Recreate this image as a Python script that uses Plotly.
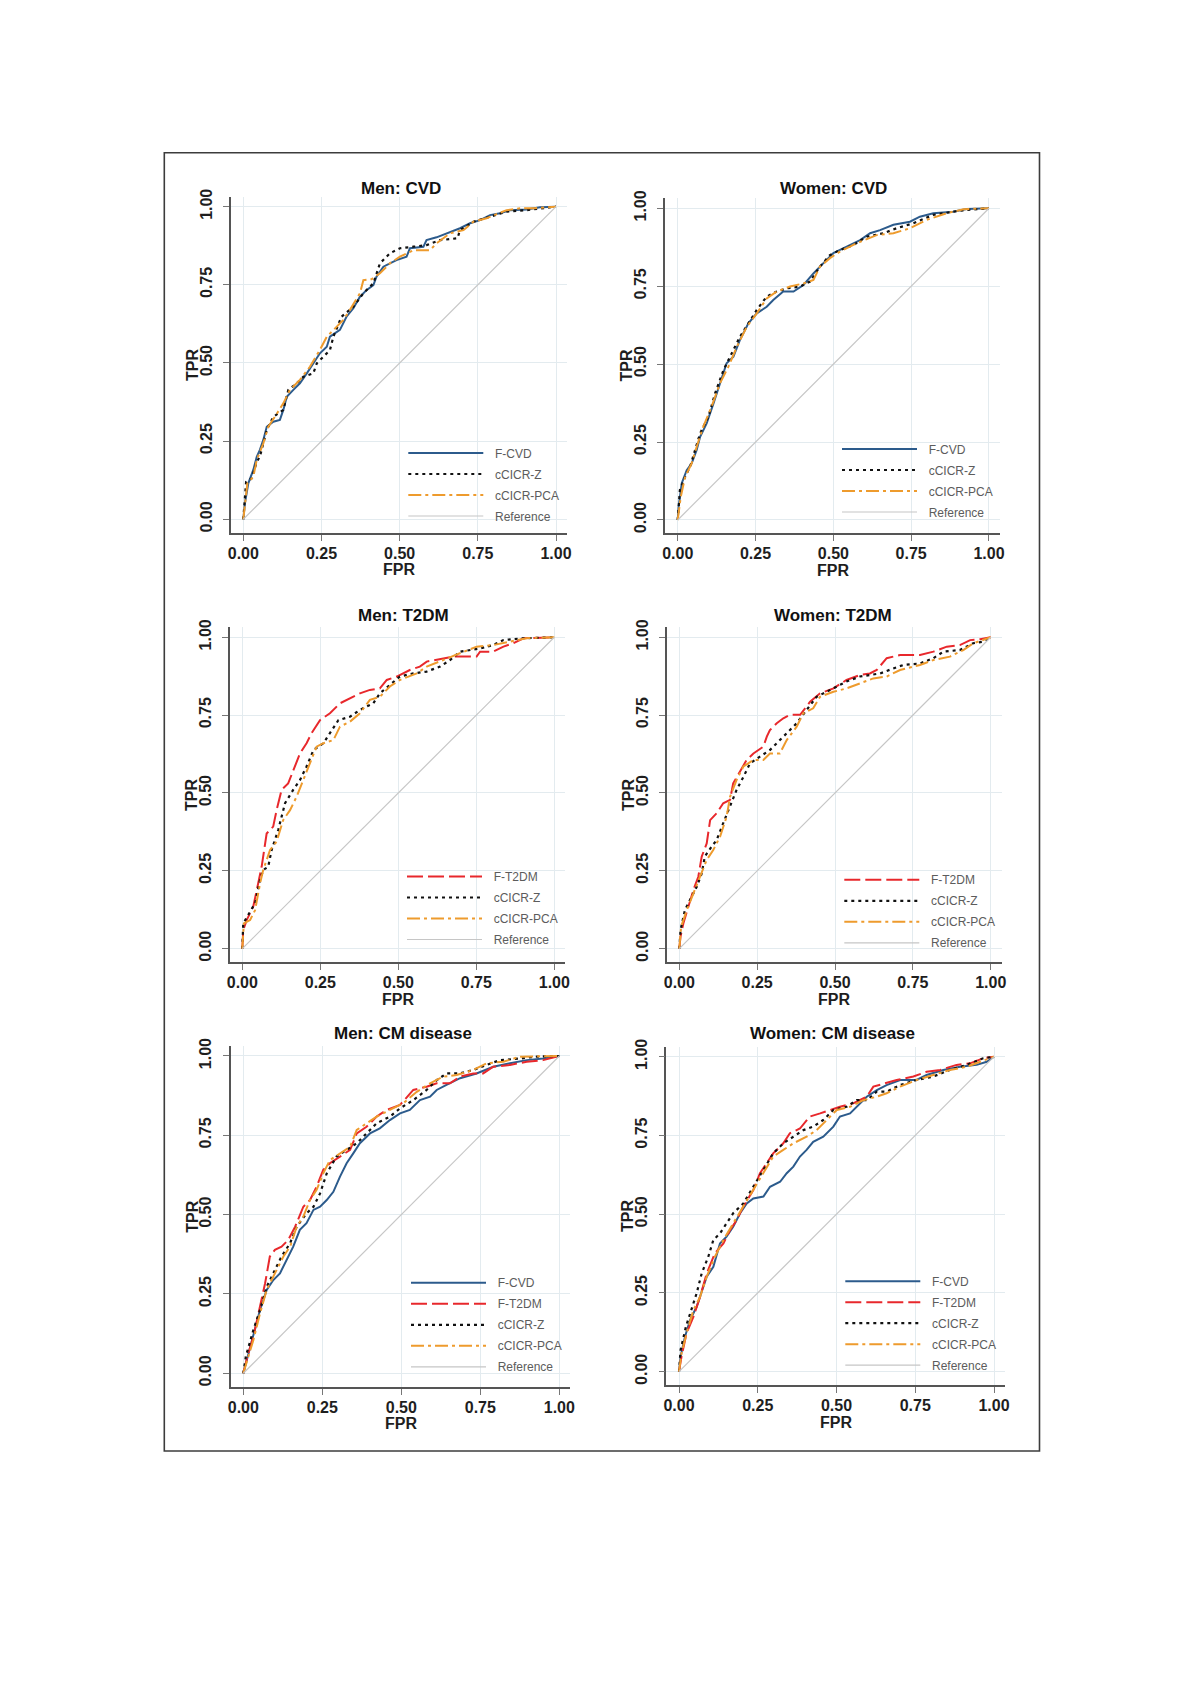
import plotly.graph_objects as go

# The page body has an 8px margin; the figure is sized so the page is exactly 1200x1698.
PAGE_OFF = 8
FIG_W, FIG_H = 1200 - 2 * PAGE_OFF, 1698 - 2 * PAGE_OFF

# ---------------- data (FPR / TPR) ----------------
tick_vals = [0, 0.25, 0.5, 0.75, 1.0]
tick_text = ["0.00", "0.25", "0.50", "0.75", "1.00"]
ref_fpr = [0, 1]
ref_tpr = [0, 1]

# Men: CVD
men_cvd_fcvd_fpr = [0, 0.005, 0.016, 0.032, 0.043, 0.053, 0.064, 0.075, 0.096, 0.117, 0.128, 0.139, 0.16, 0.181, 0.203, 0.224, 0.245, 0.267, 0.277, 0.309, 0.33, 0.352, 0.373, 0.394, 0.416, 0.426, 0.448, 0.469, 0.49, 0.522, 0.533, 0.576, 0.586, 0.618, 0.65, 0.693, 0.725, 0.757, 0.789, 0.821, 0.853, 0.906, 0.949, 1]
men_cvd_fcvd_tpr = [0, 0.05, 0.115, 0.158, 0.2, 0.222, 0.254, 0.296, 0.312, 0.318, 0.35, 0.392, 0.414, 0.435, 0.467, 0.499, 0.531, 0.552, 0.584, 0.606, 0.648, 0.675, 0.712, 0.733, 0.749, 0.776, 0.808, 0.819, 0.829, 0.84, 0.867, 0.872, 0.893, 0.902, 0.915, 0.931, 0.947, 0.957, 0.973, 0.979, 0.989, 0.991, 0.998, 1]
men_cvd_z_fpr = [0, 0.009, 0.027, 0.043, 0.053, 0.075, 0.096, 0.128, 0.144, 0.171, 0.192, 0.224, 0.235, 0.256, 0.277, 0.288, 0.314, 0.352, 0.384, 0.416, 0.437, 0.469, 0.501, 0.544, 0.586, 0.629, 0.685, 0.693, 0.736, 0.789, 0.842, 0.906, 0.949, 1]
men_cvd_z_tpr = [0, 0.12, 0.131, 0.184, 0.2, 0.286, 0.328, 0.35, 0.414, 0.435, 0.456, 0.467, 0.499, 0.52, 0.541, 0.584, 0.648, 0.68, 0.723, 0.755, 0.819, 0.851, 0.867, 0.872, 0.877, 0.893, 0.899, 0.925, 0.952, 0.968, 0.984, 0.989, 0.995, 1]
men_cvd_pca_fpr = [0, 0.013, 0.032, 0.043, 0.064, 0.08, 0.101, 0.128, 0.149, 0.181, 0.213, 0.245, 0.267, 0.288, 0.32, 0.341, 0.373, 0.384, 0.41, 0.437, 0.469, 0.501, 0.544, 0.597, 0.618, 0.661, 0.704, 0.736, 0.778, 0.842, 0.885, 0.928, 1]
men_cvd_pca_tpr = [0, 0.115, 0.136, 0.19, 0.243, 0.296, 0.328, 0.371, 0.414, 0.446, 0.488, 0.542, 0.584, 0.606, 0.638, 0.67, 0.723, 0.765, 0.768, 0.787, 0.819, 0.84, 0.861, 0.861, 0.883, 0.915, 0.925, 0.952, 0.963, 0.989, 0.995, 0.995, 1]

# Women: CVD
women_cvd_fcvd_fpr = [0, 0.003, 0.013, 0.029, 0.045, 0.061, 0.072, 0.093, 0.115, 0.136, 0.157, 0.179, 0.2, 0.227, 0.254, 0.286, 0.307, 0.339, 0.372, 0.404, 0.436, 0.468, 0.5, 0.543, 0.586, 0.618, 0.65, 0.693, 0.746, 0.778, 0.821, 0.885, 0.928, 1]
women_cvd_fcvd_tpr = [0, 0.043, 0.118, 0.16, 0.182, 0.225, 0.267, 0.31, 0.374, 0.439, 0.503, 0.524, 0.578, 0.631, 0.663, 0.684, 0.706, 0.733, 0.733, 0.754, 0.791, 0.824, 0.856, 0.877, 0.898, 0.92, 0.93, 0.947, 0.957, 0.973, 0.984, 0.989, 0.998, 1]
women_cvd_z_fpr = [0, 0.007, 0.024, 0.04, 0.056, 0.072, 0.099, 0.12, 0.147, 0.173, 0.2, 0.227, 0.254, 0.286, 0.318, 0.35, 0.393, 0.425, 0.457, 0.489, 0.521, 0.564, 0.607, 0.661, 0.703, 0.757, 0.821, 0.885, 0.928, 1]
women_cvd_z_tpr = [0, 0.096, 0.139, 0.171, 0.225, 0.278, 0.332, 0.406, 0.481, 0.535, 0.588, 0.631, 0.674, 0.717, 0.733, 0.743, 0.749, 0.765, 0.813, 0.85, 0.866, 0.882, 0.909, 0.92, 0.936, 0.952, 0.979, 0.989, 0.995, 1]
women_cvd_pca_fpr = [0, 0.01, 0.024, 0.045, 0.061, 0.082, 0.109, 0.136, 0.163, 0.19, 0.222, 0.254, 0.286, 0.318, 0.361, 0.404, 0.436, 0.457, 0.489, 0.521, 0.575, 0.639, 0.693, 0.746, 0.8, 0.864, 0.918, 1]
women_cvd_pca_tpr = [0, 0.075, 0.139, 0.182, 0.235, 0.299, 0.364, 0.439, 0.492, 0.556, 0.62, 0.663, 0.711, 0.733, 0.749, 0.759, 0.77, 0.813, 0.84, 0.861, 0.888, 0.914, 0.92, 0.936, 0.963, 0.984, 0.997, 1]

# Men: T2DM
men_t2dm_ft2dm_fpr = [0, 0.003, 0.014, 0.035, 0.051, 0.062, 0.078, 0.099, 0.11, 0.126, 0.147, 0.163, 0.185, 0.206, 0.222, 0.249, 0.281, 0.313, 0.345, 0.377, 0.409, 0.441, 0.463, 0.495, 0.537, 0.569, 0.591, 0.644, 0.676, 0.751, 0.762, 0.804, 0.837, 0.869, 0.901, 1]
men_t2dm_ft2dm_tpr = [0, 0.06, 0.092, 0.135, 0.21, 0.263, 0.37, 0.392, 0.445, 0.51, 0.531, 0.574, 0.627, 0.66, 0.692, 0.734, 0.756, 0.788, 0.804, 0.82, 0.831, 0.836, 0.863, 0.874, 0.895, 0.906, 0.922, 0.933, 0.938, 0.938, 0.954, 0.954, 0.97, 0.981, 0.997, 1]
men_t2dm_z_fpr = [0, 0.003, 0.025, 0.041, 0.057, 0.067, 0.083, 0.094, 0.115, 0.137, 0.163, 0.185, 0.206, 0.228, 0.26, 0.281, 0.308, 0.345, 0.377, 0.42, 0.441, 0.473, 0.505, 0.548, 0.591, 0.634, 0.666, 0.698, 0.73, 0.762, 0.804, 0.837, 0.901, 1]
men_t2dm_z_tpr = [0, 0.081, 0.119, 0.146, 0.221, 0.253, 0.263, 0.317, 0.381, 0.467, 0.51, 0.542, 0.585, 0.638, 0.66, 0.692, 0.734, 0.745, 0.767, 0.788, 0.82, 0.847, 0.874, 0.884, 0.89, 0.906, 0.927, 0.954, 0.959, 0.964, 0.975, 0.991, 0.997, 1]
men_t2dm_pca_fpr = [0, 0.005, 0.025, 0.041, 0.057, 0.067, 0.089, 0.11, 0.131, 0.153, 0.174, 0.196, 0.217, 0.238, 0.26, 0.292, 0.313, 0.345, 0.377, 0.409, 0.441, 0.473, 0.505, 0.559, 0.591, 0.644, 0.698, 0.751, 0.804, 0.858, 0.911, 1]
men_t2dm_pca_tpr = [0, 0.081, 0.092, 0.124, 0.21, 0.253, 0.317, 0.344, 0.413, 0.445, 0.488, 0.542, 0.595, 0.649, 0.66, 0.67, 0.713, 0.729, 0.756, 0.799, 0.809, 0.842, 0.863, 0.884, 0.906, 0.927, 0.948, 0.97, 0.975, 0.986, 0.997, 1]

# Women: T2DM
women_t2dm_ft2dm_fpr = [0, 0.004, 0.013, 0.029, 0.045, 0.061, 0.072, 0.088, 0.099, 0.12, 0.141, 0.163, 0.173, 0.195, 0.216, 0.238, 0.27, 0.281, 0.291, 0.313, 0.334, 0.355, 0.388, 0.42, 0.452, 0.495, 0.537, 0.58, 0.612, 0.634, 0.666, 0.709, 0.773, 0.816, 0.859, 0.901, 0.934, 0.966, 1]
women_t2dm_ft2dm_tpr = [0, 0.039, 0.081, 0.135, 0.188, 0.231, 0.296, 0.338, 0.413, 0.435, 0.467, 0.478, 0.531, 0.569, 0.606, 0.627, 0.649, 0.681, 0.702, 0.724, 0.74, 0.751, 0.751, 0.793, 0.82, 0.836, 0.863, 0.879, 0.884, 0.895, 0.933, 0.943, 0.943, 0.954, 0.97, 0.975, 0.991, 0.994, 1]
women_t2dm_z_fpr = [0, 0.004, 0.018, 0.034, 0.056, 0.072, 0.082, 0.104, 0.12, 0.141, 0.163, 0.184, 0.206, 0.227, 0.259, 0.291, 0.323, 0.345, 0.377, 0.409, 0.441, 0.473, 0.505, 0.537, 0.58, 0.612, 0.645, 0.687, 0.719, 0.773, 0.816, 0.848, 0.901, 0.944, 0.976, 1]
women_t2dm_z_tpr = [0, 0.06, 0.124, 0.156, 0.199, 0.242, 0.296, 0.328, 0.349, 0.403, 0.456, 0.51, 0.552, 0.595, 0.617, 0.638, 0.67, 0.692, 0.724, 0.767, 0.809, 0.825, 0.842, 0.858, 0.874, 0.879, 0.884, 0.9, 0.911, 0.916, 0.933, 0.954, 0.959, 0.981, 0.986, 1]
women_t2dm_pca_fpr = [0, 0.006, 0.024, 0.045, 0.066, 0.088, 0.109, 0.131, 0.152, 0.163, 0.184, 0.206, 0.238, 0.27, 0.291, 0.323, 0.345, 0.377, 0.398, 0.43, 0.452, 0.495, 0.537, 0.58, 0.623, 0.666, 0.709, 0.773, 0.816, 0.869, 0.912, 0.944, 1]
women_t2dm_pca_tpr = [0, 0.071, 0.124, 0.178, 0.231, 0.285, 0.317, 0.36, 0.424, 0.488, 0.542, 0.585, 0.606, 0.606, 0.627, 0.627, 0.67, 0.713, 0.756, 0.772, 0.809, 0.825, 0.836, 0.852, 0.868, 0.874, 0.895, 0.911, 0.927, 0.938, 0.959, 0.981, 1]

# Men: CM disease
men_cm_fcvd_fpr = [0, 0.011, 0.032, 0.053, 0.074, 0.095, 0.116, 0.137, 0.158, 0.179, 0.2, 0.222, 0.243, 0.264, 0.285, 0.306, 0.327, 0.348, 0.369, 0.401, 0.432, 0.464, 0.496, 0.527, 0.559, 0.591, 0.612, 0.643, 0.686, 0.738, 0.791, 0.844, 0.897, 0.949, 1]
men_cm_fcvd_tpr = [0, 0.042, 0.116, 0.2, 0.263, 0.294, 0.315, 0.357, 0.399, 0.452, 0.473, 0.515, 0.525, 0.546, 0.572, 0.62, 0.662, 0.693, 0.725, 0.756, 0.772, 0.798, 0.819, 0.83, 0.861, 0.872, 0.893, 0.909, 0.93, 0.945, 0.966, 0.977, 0.987, 0.992, 1]
men_cm_ft2dm_fpr = [0, 0.013, 0.032, 0.053, 0.069, 0.084, 0.1, 0.121, 0.142, 0.164, 0.19, 0.211, 0.232, 0.253, 0.274, 0.306, 0.338, 0.359, 0.39, 0.422, 0.454, 0.496, 0.538, 0.58, 0.612, 0.654, 0.686, 0.728, 0.759, 0.791, 0.844, 0.897, 0.949, 1]
men_cm_ft2dm_tpr = [0, 0.053, 0.116, 0.21, 0.284, 0.368, 0.389, 0.399, 0.42, 0.462, 0.525, 0.546, 0.588, 0.641, 0.662, 0.683, 0.704, 0.756, 0.777, 0.809, 0.83, 0.846, 0.893, 0.903, 0.914, 0.914, 0.935, 0.945, 0.945, 0.966, 0.972, 0.982, 0.987, 1]
men_cm_z_fpr = [0, 0.008, 0.032, 0.053, 0.074, 0.1, 0.121, 0.148, 0.169, 0.2, 0.222, 0.243, 0.264, 0.295, 0.327, 0.359, 0.39, 0.422, 0.464, 0.496, 0.538, 0.58, 0.612, 0.643, 0.686, 0.728, 0.77, 0.812, 0.876, 0.928, 1]
men_cm_z_tpr = [0, 0.053, 0.137, 0.2, 0.273, 0.326, 0.368, 0.41, 0.462, 0.504, 0.525, 0.567, 0.63, 0.683, 0.704, 0.725, 0.756, 0.788, 0.809, 0.835, 0.861, 0.893, 0.924, 0.945, 0.945, 0.956, 0.972, 0.987, 0.992, 0.998, 1]
men_cm_pca_fpr = [0, 0.013, 0.032, 0.053, 0.074, 0.1, 0.127, 0.148, 0.169, 0.19, 0.211, 0.232, 0.253, 0.274, 0.306, 0.338, 0.359, 0.39, 0.422, 0.464, 0.506, 0.549, 0.591, 0.633, 0.675, 0.728, 0.77, 0.823, 0.876, 1]
men_cm_pca_tpr = [0, 0.042, 0.105, 0.189, 0.263, 0.315, 0.368, 0.399, 0.462, 0.494, 0.546, 0.578, 0.63, 0.672, 0.693, 0.714, 0.767, 0.788, 0.809, 0.83, 0.851, 0.887, 0.914, 0.935, 0.94, 0.956, 0.977, 0.982, 0.998, 1]

# Women: CM disease
women_cm_fcvd_fpr = [0, 0.005, 0.019, 0.035, 0.056, 0.067, 0.088, 0.109, 0.13, 0.151, 0.172, 0.194, 0.215, 0.236, 0.268, 0.289, 0.321, 0.342, 0.363, 0.384, 0.405, 0.426, 0.458, 0.49, 0.511, 0.543, 0.575, 0.596, 0.628, 0.659, 0.702, 0.754, 0.786, 0.839, 0.892, 0.945, 0.977, 1]
women_cm_fcvd_tpr = [0, 0.048, 0.111, 0.164, 0.206, 0.238, 0.302, 0.333, 0.407, 0.429, 0.46, 0.503, 0.534, 0.55, 0.556, 0.587, 0.603, 0.63, 0.651, 0.683, 0.704, 0.73, 0.746, 0.778, 0.81, 0.82, 0.852, 0.873, 0.894, 0.91, 0.926, 0.926, 0.942, 0.958, 0.968, 0.974, 0.984, 1]
women_cm_ft2dm_fpr = [0, 0.008, 0.024, 0.046, 0.067, 0.088, 0.114, 0.141, 0.162, 0.183, 0.204, 0.236, 0.257, 0.278, 0.299, 0.331, 0.352, 0.384, 0.415, 0.448, 0.479, 0.511, 0.553, 0.596, 0.617, 0.649, 0.691, 0.744, 0.786, 0.829, 0.881, 0.924, 0.966, 1]
women_cm_ft2dm_tpr = [0, 0.048, 0.122, 0.175, 0.238, 0.312, 0.376, 0.407, 0.45, 0.481, 0.524, 0.577, 0.63, 0.661, 0.693, 0.725, 0.757, 0.772, 0.81, 0.82, 0.831, 0.841, 0.852, 0.873, 0.905, 0.915, 0.926, 0.937, 0.952, 0.958, 0.974, 0.979, 0.995, 1]
women_cm_z_fpr = [0, 0.005, 0.022, 0.04, 0.056, 0.072, 0.093, 0.109, 0.13, 0.151, 0.172, 0.204, 0.236, 0.268, 0.299, 0.331, 0.363, 0.395, 0.426, 0.458, 0.49, 0.532, 0.564, 0.596, 0.628, 0.659, 0.702, 0.754, 0.807, 0.86, 0.913, 0.966, 1]
women_cm_z_tpr = [0, 0.069, 0.143, 0.196, 0.249, 0.312, 0.365, 0.418, 0.439, 0.471, 0.503, 0.534, 0.587, 0.64, 0.693, 0.725, 0.746, 0.767, 0.778, 0.799, 0.831, 0.841, 0.862, 0.862, 0.889, 0.889, 0.91, 0.926, 0.937, 0.958, 0.974, 0.995, 1]
women_cm_pca_fpr = [0, 0.008, 0.024, 0.046, 0.067, 0.088, 0.114, 0.141, 0.172, 0.204, 0.236, 0.268, 0.299, 0.331, 0.363, 0.405, 0.437, 0.469, 0.501, 0.543, 0.585, 0.628, 0.659, 0.702, 0.754, 0.807, 0.86, 0.913, 0.966, 1]
women_cm_pca_tpr = [0, 0.058, 0.122, 0.196, 0.238, 0.302, 0.365, 0.418, 0.471, 0.524, 0.577, 0.63, 0.683, 0.704, 0.725, 0.746, 0.767, 0.799, 0.831, 0.841, 0.862, 0.873, 0.884, 0.905, 0.926, 0.942, 0.958, 0.968, 0.989, 1]

# ---------------- styles ----------------
FONT = "Liberation Sans, Arial, sans-serif"
STYLE = {
    "F-CVD": dict(color="#2c5b8c", width=2.0, dash="solid"),
    "F-T2DM": dict(color="#e8282c", width=2.0, dash="16px,5px"),
    "cCICR-Z": dict(color="#111111", width=2.2, dash="3px,4px"),
    "cCICR-PCA": dict(color="#ee9b2d", width=2.0, dash="13px,4px,3px,4px"),
    "Reference": dict(color="#c6c6c6", width=1.2, dash="solid"),
}

# panel layout in page pixels: x of FPR=0 / FPR=1, y of TPR=0 / TPR=1,
# legend left / top, title centre
panels = [
    dict(title="Men: CVD", px=(243.3, 556.0), py=(519.3, 206.7), title_xy=(401, 188),
         leg=(403.3, 438.5),
         series=[("F-CVD", men_cvd_fcvd_fpr, men_cvd_fcvd_tpr),
                 ("cCICR-Z", men_cvd_z_fpr, men_cvd_z_tpr),
                 ("cCICR-PCA", men_cvd_pca_fpr, men_cvd_pca_tpr)]),
    dict(title="Women: CVD", px=(677.7, 989.0), py=(520.0, 208.3), title_xy=(833, 188),
         leg=(837, 434.5),
         series=[("F-CVD", women_cvd_fcvd_fpr, women_cvd_fcvd_tpr),
                 ("cCICR-Z", women_cvd_z_fpr, women_cvd_z_tpr),
                 ("cCICR-PCA", women_cvd_pca_fpr, women_cvd_pca_tpr)]),
    dict(title="Men: T2DM", px=(242.3, 554.3), py=(948.7, 637.3), title_xy=(403, 615),
         leg=(402, 862),
         series=[("F-T2DM", men_t2dm_ft2dm_fpr, men_t2dm_ft2dm_tpr),
                 ("cCICR-Z", men_t2dm_z_fpr, men_t2dm_z_tpr),
                 ("cCICR-PCA", men_t2dm_pca_fpr, men_t2dm_pca_tpr)]),
    dict(title="Women: T2DM", px=(679.3, 990.7), py=(948.7, 637.3), title_xy=(833, 615),
         leg=(839.3, 865.3),
         series=[("F-T2DM", women_t2dm_ft2dm_fpr, women_t2dm_ft2dm_tpr),
                 ("cCICR-Z", women_t2dm_z_fpr, women_t2dm_z_tpr),
                 ("cCICR-PCA", women_t2dm_pca_fpr, women_t2dm_pca_tpr)]),
    dict(title="Men: CM disease", px=(243.3, 559.3), py=(1373.3, 1056.0), title_xy=(403, 1033),
         leg=(406, 1268.3),
         series=[("F-CVD", men_cm_fcvd_fpr, men_cm_fcvd_tpr),
                 ("F-T2DM", men_cm_ft2dm_fpr, men_cm_ft2dm_tpr),
                 ("cCICR-Z", men_cm_z_fpr, men_cm_z_tpr),
                 ("cCICR-PCA", men_cm_pca_fpr, men_cm_pca_tpr)]),
    dict(title="Women: CM disease", px=(679.0, 994.0), py=(1371.7, 1056.7), title_xy=(832, 1033),
         leg=(840.3, 1266.7),
         series=[("F-CVD", women_cm_fcvd_fpr, women_cm_fcvd_tpr),
                 ("F-T2DM", women_cm_ft2dm_fpr, women_cm_ft2dm_tpr),
                 ("cCICR-Z", women_cm_z_fpr, women_cm_z_tpr),
                 ("cCICR-PCA", women_cm_pca_fpr, women_cm_pca_tpr)]),
]

X_LO, X_HI = -0.04, 1.035
Y_LO, Y_HI = -0.043, 1.032

fig = go.Figure()
layout = dict(
    width=FIG_W, height=FIG_H, autosize=False,
    margin=dict(l=0, r=0, t=0, b=0, pad=0, autoexpand=False),
    paper_bgcolor="white", plot_bgcolor="white",
    showlegend=True,
    annotations=[], shapes=[],
)


def fx(p):
    return (p - PAGE_OFF) / FIG_W


def fy(p):
    return 1 - (p - PAGE_OFF) / FIG_H


for i, pn in enumerate(panels, start=1):
    sfx = "" if i == 1 else str(i)
    x0, x1 = pn["px"]
    y0, y1 = pn["py"]
    sx = x1 - x0
    sy = y0 - y1
    left = x0 + X_LO * sx
    right = x0 + X_HI * sx
    bottom = y0 - Y_LO * sy
    top = y0 - Y_HI * sy

    common = dict(
        tickmode="array", tickvals=tick_vals, ticktext=tick_text,
        showgrid=True, gridcolor="#e3ebef", gridwidth=1, zeroline=False,
        showline=True, linecolor="#555555", linewidth=1.6,
        ticks="outside", ticklen=6, tickcolor="#777777", tickwidth=1,
        tickfont=dict(family=FONT, size=16, color="#1e1e1e", weight="bold"),
        fixedrange=True, automargin=False,
    )
    xa = dict(common, range=[X_LO, X_HI], domain=[fx(left), fx(right)],
              anchor="y" + sfx, ticklabelstandoff=-1)
    ya = dict(common, range=[Y_LO, Y_HI], domain=[fy(bottom), fy(top)],
              anchor="x" + sfx, tickangle=-90, ticklabelstandoff=5)
    layout["xaxis" + sfx] = xa
    layout["yaxis" + sfx] = ya

    leg_name = "legend" if i == 1 else "legend" + str(i)
    lx, ly = pn["leg"]
    layout[leg_name] = dict(
        x=fx(lx), y=fy(ly), xanchor="left", yanchor="top",
        bgcolor="rgba(0,0,0,0)", borderwidth=0,
        font=dict(family=FONT, size=12, color="#5c5c5c"),
        itemwidth=75, tracegroupgap=2, traceorder="grouped",
        itemclick=False, itemdoubleclick=False,
    )

    names = [s[0] for s in pn["series"]] + ["Reference"]
    data_sets = [(s[1], s[2]) for s in pn["series"]] + [(ref_fpr, ref_tpr)]
    for name, (xs, ys) in zip(names, data_sets):
        assert len(xs) == len(ys), (pn["title"], name)
        st = STYLE[name]
        fig.add_trace(go.Scatter(
            x=xs, y=ys, mode="lines", name="\u00a0\u00a0" + name,
            line=dict(color=st["color"], width=st["width"], dash=st["dash"]),
            xaxis="x" + sfx, yaxis="y" + sfx, legend=leg_name,
            legendgroup=f"p{i}_{name}", hoverinfo="skip",
        ))

    # panel title
    tx, ty = pn["title_xy"]
    layout["annotations"].append(dict(
        text="<b>" + pn["title"] + "</b>", x=fx(tx), y=fy(ty), xref="paper", yref="paper",
        showarrow=False, xanchor="center", yanchor="middle",
        font=dict(family=FONT, size=17, color="#111111")))
    # axis titles
    layout["annotations"].append(dict(
        text="<b>TPR</b>", x=fx(x0 - 51), y=fy((top + bottom) / 2), xref="paper", yref="paper",
        showarrow=False, xanchor="center", yanchor="middle", textangle=-90,
        font=dict(family=FONT, size=16, color="#1e1e1e")))
    layout["annotations"].append(dict(
        text="<b>FPR</b>", x=fx((left + right) / 2), y=fy(bottom + 37), xref="paper", yref="paper",
        showarrow=False, xanchor="center", yanchor="middle",
        font=dict(family=FONT, size=16, color="#1e1e1e")))

# outer frame
layout["shapes"].append(dict(
    type="rect", xref="paper", yref="paper",
    x0=fx(164.3), x1=fx(1039.5), y0=fy(1451), y1=fy(152.7),
    line=dict(color="#3c3c3c", width=1.6), fillcolor="rgba(0,0,0,0)", layer="below"))

fig.update_layout(**layout)
fig.write_html("out.html", config={"displayModeBar": False})
